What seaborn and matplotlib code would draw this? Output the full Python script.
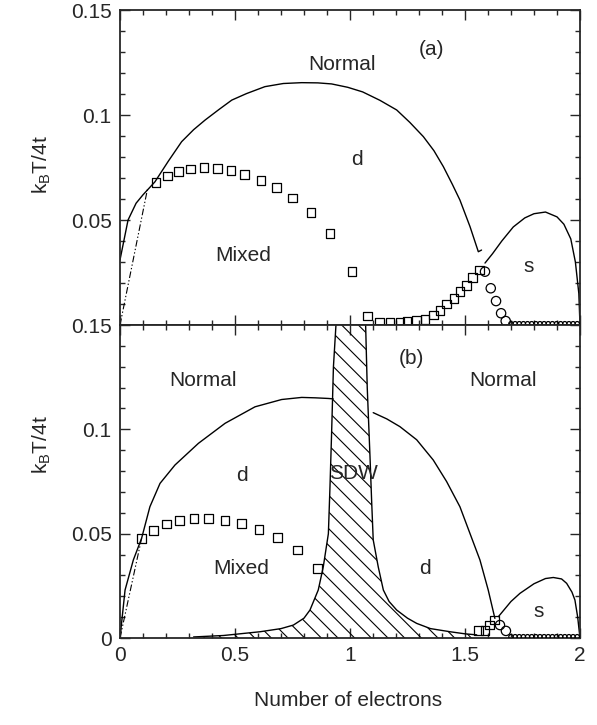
import numpy as np
import pandas as pd
import matplotlib
matplotlib.use("Agg")
import matplotlib.pyplot as plt
import seaborn as sns
from matplotlib.ticker import MultipleLocator, FixedLocator, FixedFormatter

# ---------------- panel (a) ----------------
a_nd_x = [0.0, 0.035, 0.07, 0.10, 0.152, 0.21, 0.268, 0.32, 0.37, 0.43, 0.486, 0.55, 0.63,
          0.71, 0.79, 0.86, 0.92, 0.99, 1.055, 1.13, 1.203, 1.26, 1.319, 1.365, 1.406, 1.445,
          1.478, 1.522, 1.558, 1.572]
a_nd_T = [0.031, 0.050, 0.058, 0.062, 0.0682, 0.078, 0.0873, 0.093, 0.0976, 0.1026, 0.1071,
          0.1102, 0.1135, 0.1150, 0.1154, 0.1153, 0.1148, 0.1132, 0.111, 0.107, 0.1024, 0.0965,
          0.0897, 0.083, 0.0754, 0.067, 0.0595, 0.0468, 0.0349, 0.0357]
a_s_x = [1.587, 1.62, 1.66, 1.71, 1.76, 1.80, 1.85, 1.90, 1.93, 1.96, 1.98, 1.995, 2.0]
a_s_T = [0.0295, 0.034, 0.040, 0.0467, 0.051, 0.053, 0.0538, 0.0515, 0.048, 0.041, 0.030, 0.015, 0.0]
a_dd_x = [0.0, 0.12]
a_dd_T = [0.0, 0.065]
a_sq_x = [0.157, 0.206, 0.254, 0.307, 0.365, 0.423, 0.483, 0.543, 0.613, 0.681, 0.751, 0.830,
          0.913, 1.009, 1.075, 1.13, 1.174, 1.217, 1.248, 1.29, 1.326, 1.362, 1.391, 1.42,
          1.452, 1.478, 1.507, 1.533, 1.562]
a_sq_T = [0.0678, 0.071, 0.073, 0.0743, 0.0749, 0.0746, 0.0735, 0.0717, 0.069, 0.0656, 0.0605,
          0.0537, 0.0437, 0.0254, 0.0043, 0.0011, 0.0011, 0.0011, 0.0016, 0.002, 0.0027, 0.0048,
          0.0068, 0.010, 0.0127, 0.0159, 0.019, 0.0227, 0.0262]
a_ci_x = [1.587, 1.612, 1.635, 1.657, 1.677]
a_ci_T = [0.0254, 0.0175, 0.0114, 0.0056, 0.0019]
base_ci_x = [1.70, 1.718, 1.736, 1.754, 1.772, 1.79, 1.808, 1.826, 1.844, 1.862, 1.88,
             1.898, 1.916, 1.934, 1.952, 1.97, 1.988]
base_ci_T = [0.0006] * 17

# ---------------- panel (b) ----------------
b_ndl_x = [0.0, 0.022, 0.058, 0.094, 0.13, 0.174, 0.239, 0.341, 0.457, 0.587, 0.703, 0.79,
           0.85, 0.906, 0.927]
b_ndl_T = [0.0, 0.023, 0.0374, 0.0478, 0.0629, 0.0741, 0.0829, 0.0933, 0.1029, 0.1108, 0.1143,
           0.1153, 0.1151, 0.1148, 0.1146]
b_ndr_x = [1.101, 1.16, 1.217, 1.29, 1.362, 1.42, 1.478, 1.522, 1.565, 1.601, 1.63]
b_ndr_T = [0.108, 0.105, 0.1013, 0.095, 0.0853, 0.075, 0.0629, 0.050, 0.0374, 0.023, 0.0094]
b_s_x = [1.645, 1.70, 1.739, 1.80, 1.85, 1.884, 1.92, 1.942, 1.965, 1.978, 1.99, 2.0]
b_s_T = [0.0102, 0.0175, 0.0214, 0.026, 0.0285, 0.029, 0.0283, 0.0262, 0.022, 0.0182, 0.010, 0.0]
b_dd_x = [0.0, 0.094]
b_dd_T = [0.0, 0.0478]
sdw_left_x = [0.32, 0.45, 0.609, 0.70, 0.754, 0.80, 0.826, 0.862, 0.884, 0.906, 0.913,
              0.920, 0.928, 0.939]
sdw_left_T = [0.0005, 0.0012, 0.003, 0.0045, 0.0062, 0.0095, 0.0134, 0.023, 0.0342, 0.050,
              0.0725, 0.098, 0.13, 0.15]
sdw_right_x = [1.068, 1.075, 1.087, 1.094, 1.101, 1.123, 1.145, 1.17, 1.203, 1.25, 1.29,
               1.35, 1.435, 1.50, 1.551]
sdw_right_T = [0.15, 0.12, 0.0869, 0.066, 0.047, 0.034, 0.023, 0.0175, 0.0134, 0.0095, 0.007,
               0.0045, 0.003, 0.002, 0.0015]
b_sq_x = [0.094, 0.145, 0.203, 0.258, 0.322, 0.384, 0.457, 0.529, 0.604, 0.686, 0.771, 0.858,
          1.558, 1.587, 1.606, 1.630]
b_sq_T = [0.0478, 0.0517, 0.0546, 0.0565, 0.0573, 0.0573, 0.0565, 0.055, 0.0521, 0.0481,
          0.0422, 0.0334, 0.0035, 0.0037, 0.0062, 0.0086]
b_ci_x = [1.652, 1.678]
b_ci_T = [0.0062, 0.0034]

y_ticks = [0.0, 0.05, 0.1, 0.15]
y_labels_a = ["", "0.05", "0.1", "0.15"]
y_labels_b = ["0", "0.05", "0.1", "0.15"]
x_ticks = [0.0, 0.5, 1.0, 1.5, 2.0]
x_labels = ["0", "0.5", "1", "1.5", "2"]

# ---------------- style ----------------
sns.set_style("ticks")
plt.rcParams["font.family"] = ["Liberation Sans", "DejaVu Sans"]
plt.rcParams["mathtext.fontset"] = "custom"
plt.rcParams["mathtext.rm"] = "Liberation Sans"
plt.rcParams["mathtext.it"] = "Liberation Sans"
plt.rcParams["hatch.linewidth"] = 0.8
FS = 15

fig = plt.figure(figsize=(5.97, 7.25), dpi=100)
ax_a = fig.add_axes([0.201, 0.5517, 0.7705, 0.4345])
ax_b = fig.add_axes([0.201, 0.1200, 0.7705, 0.4317])

LW = 1.0


def line(ax, x, y, **kw):
    sns.lineplot(x=x, y=y, ax=ax, sort=False, estimator=None, color="black",
                 lw=kw.pop("lw", LW), legend=False, **kw)


def pts(ax, x, y, marker, s):
    sns.scatterplot(x=x, y=y, ax=ax, marker=marker, s=s, facecolor="none",
                    edgecolor="black", linewidth=0.9, legend=False, zorder=5)


# panel (a)
line(ax_a, a_nd_x, a_nd_T)
line(ax_a, a_s_x, a_s_T)
line(ax_a, a_dd_x, a_dd_T, lw=0.8)
ax_a.lines[-1].set_dashes([6, 2, 1.2, 2, 1.2, 2])
pts(ax_a, a_sq_x, a_sq_T, "s", 40)
pts(ax_a, a_ci_x, a_ci_T, "o", 45)
pts(ax_a, base_ci_x, base_ci_T, "o", 10)

# panel (b)
poly_x = sdw_left_x + sdw_right_x + [sdw_right_x[-1], sdw_left_x[0]]
poly_T = sdw_left_T + sdw_right_T + [0.0, 0.0]
ax_b.fill(poly_x, poly_T, facecolor="none", edgecolor="black", hatch="\\\\", linewidth=0)
line(ax_b, sdw_left_x, sdw_left_T)
line(ax_b, sdw_right_x, sdw_right_T)
line(ax_b, b_ndl_x, b_ndl_T)
line(ax_b, b_ndr_x, b_ndr_T)
line(ax_b, b_s_x, b_s_T)
line(ax_b, b_dd_x, b_dd_T, lw=0.8)
ax_b.lines[-1].set_dashes([6, 2, 1.2, 2, 1.2, 2])
pts(ax_b, b_sq_x, b_sq_T, "s", 40)
pts(ax_b, b_ci_x, b_ci_T, "o", 45)
pts(ax_b, base_ci_x, base_ci_T, "o", 10)

for ax, ylabs in ((ax_a, y_labels_a), (ax_b, y_labels_b)):
    ax.set_xlim(0, 2)
    ax.set_ylim(0, 0.15)
    ax.yaxis.set_major_locator(FixedLocator(y_ticks))
    ax.yaxis.set_major_formatter(FixedFormatter(ylabs))
    ax.yaxis.set_minor_locator(MultipleLocator(0.01))
    ax.xaxis.set_major_locator(FixedLocator(x_ticks))
    ax.xaxis.set_minor_locator(MultipleLocator(0.1))
    ax.tick_params(which="both", direction="in", top=True, right=True, width=1.0,
                   labelsize=FS, pad=6)
    ax.tick_params(which="major", length=7)
    ax.tick_params(which="minor", length=3.5)
    for sp in ax.spines.values():
        sp.set_linewidth(1.3)
    ax.set_xlabel("")
    ax.set_ylabel("")

ax_a.xaxis.set_major_formatter(FixedFormatter([""] * 5))
ax_b.xaxis.set_major_formatter(FixedFormatter(x_labels))

# region labels
ax_a.text(0.964, 0.124, "Normal", fontsize=FS, ha="center", va="center")
ax_a.text(1.355, 0.131, "(a)", fontsize=FS, ha="center", va="center")
ax_a.text(1.03, 0.0786, "d", fontsize=FS, ha="center", va="center")
ax_a.text(0.536, 0.0333, "Mixed", fontsize=FS, ha="center", va="center")
ax_a.text(1.775, 0.0278, "s", fontsize=FS, ha="center", va="center")

ax_b.text(0.362, 0.1236, "Normal", fontsize=FS, ha="center", va="center")
ax_b.text(1.268, 0.134, "(b)", fontsize=FS, ha="center", va="center")
ax_b.text(1.667, 0.1236, "Normal", fontsize=FS, ha="center", va="center")
ax_b.text(0.529, 0.078, "d", fontsize=FS, ha="center", va="center")
ax_b.text(1.014, 0.0789, "SDW", fontsize=FS, ha="center", va="center")
ax_b.text(0.529, 0.0334, "Mixed", fontsize=FS, ha="center", va="center")
ax_b.text(1.326, 0.0334, "d", fontsize=FS, ha="center", va="center")
ax_b.text(1.819, 0.0126, "s", fontsize=FS, ha="center", va="center")

fig.text(42 / 597, 1 - 165 / 725, r"k$_{\rm B}$T/4t", rotation=90, fontsize=FS,
         ha="center", va="center")
fig.text(42 / 597, 1 - 445 / 725, r"k$_{\rm B}$T/4t", rotation=90, fontsize=FS,
         ha="center", va="center")
fig.text(348 / 597, 1 - 700 / 725, "Number of electrons", fontsize=FS, ha="center",
         va="center")

fig.savefig("out.png", dpi=100)
